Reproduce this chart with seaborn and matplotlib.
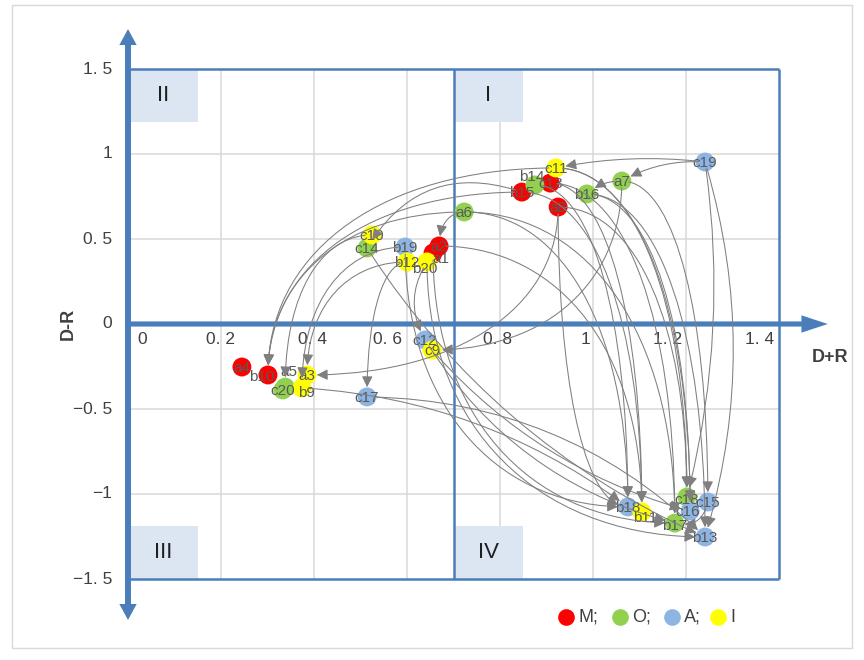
import matplotlib
matplotlib.use("Agg")
import matplotlib.pyplot as plt
import seaborn as sns
import pandas as pd
from matplotlib.lines import Line2D
from matplotlib.patches import Rectangle, ConnectionStyle
from matplotlib.path import Path

# ---------------- data ----------------
point_names = ["c19", "c11", "a7", "b14", "c13", "b15", "b16", "a8", "a6",
               "c10", "c14", "b19", "a2", "a1", "b12", "b20", "c12", "c9",
               "a4", "b10", "a3", "b9", "a5", "c20", "c17",
               "c18", "c15", "c16", "b18", "b11", "b17", "b13"]
point_groups = ["A", "I", "O", "O", "M", "M", "O", "M", "O",
                "I", "O", "A", "M", "M", "I", "I", "A", "I",
                "M", "M", "I", "I", "O", "O", "A",
                "O", "A", "A", "A", "I", "O", "A"]
point_x = [1.241, 0.920, 1.062, 0.875, 0.908, 0.847, 0.987, 0.925, 0.723,
           0.525, 0.514, 0.596, 0.669, 0.656, 0.600, 0.643, 0.639, 0.654,
           0.245, 0.301, 0.385, 0.374, 0.338, 0.333, 0.514,
           1.202, 1.247, 1.209, 1.075, 1.105, 1.176, 1.241]
point_y = [0.953, 0.918, 0.841, 0.818, 0.829, 0.776, 0.765, 0.688, 0.659,
           0.524, 0.447, 0.453, 0.459, 0.418, 0.365, 0.365, -0.094, -0.153,
           -0.253, -0.300, -0.300, -0.376, -0.371, -0.388, -0.429,
           -1.018, -1.047, -1.100, -1.076, -1.106, -1.171, -1.253]

edge_src = ["c11", "b15", "a6", "c10", "b19", "b12", "a8", "b12",
            "c19", "c19", "a7", "a6", "b15", "b20", "a7",
            "c19", "c19", "a7", "b16", "b16", "a8", "a8", "c13", "c13",
            "b14", "c11", "c11", "a6", "a6", "a2", "a1", "b20", "b19",
            "c12", "c9", "c17", "b9", "c15", "c14", "b15"]
edge_dst = ["b10", "b10", "b10", "a5", "b9", "a3", "a3", "c17",
            "c11", "a7", "b16", "a2", "c14", "c12", "c9",
            "c18", "b13", "c15", "b13", "c16", "b18", "c18", "b11", "b17",
            "b18", "c16", "c18", "b18", "b17", "b11", "b17", "b13", "b18",
            "b17", "c16", "b13", "b18", "b17", "b13", "b11"]

group_order = ["M", "O", "A", "I"]
group_colors = ["#ff0000", "#92d050", "#8db4e2", "#ffff00"]
legend_labels = ["M;", "O;", "A;", "I"]

x_ticks = [0, 0.2, 0.4, 0.6, 0.8, 1.0, 1.2, 1.4]
x_tick_labels = ["0", "0. 2", "0. 4", "0. 6", "0. 8", "1", "1. 2", "1. 4"]
y_ticks = [1.5, 1.0, 0.5, 0.0, -0.5, -1.0, -1.5]
y_tick_labels = ["1. 5", "1", "0. 5", "0", "\u22120. 5", "\u22121", "\u22121. 5"]
quadrant_names = ["I", "II", "III", "IV"]


# ---------------- styling ----------------
class OfficeCurve(ConnectionStyle._Base):
    """Curved connector: leaves horizontally ('h') or vertically ('v'),
    arrives along the other direction (quarter-ellipse like)."""

    def __init__(self, first="h", k=0.6):
        self.first = first
        self.k = k

    def connect(self, posA, posB):
        (xa, ya), (xb, yb) = posA, posB
        if self.first == "h":
            cx, cy = xb, ya
        else:
            cx, cy = xa, yb
        k = self.k
        c1 = (xa + k * (cx - xa), ya + k * (cy - ya))
        c2 = (xb + k * (cx - xb), yb + k * (cy - yb))
        return Path([posA, c1, c2, posB],
                    [Path.MOVETO, Path.CURVE4, Path.CURVE4, Path.CURVE4])


D = "D"
H = "H"
edge_styles = [D, D, D, D, D, D, H, D,
               "arc3,rad=0.08", "arc3,rad=0.15", "arc3,rad=0.2", D, "arc3,rad=0.4",
               "arc3,rad=0.3", H,
               "arc3,rad=-0.1", "arc3,rad=-0.15", D, D, D, H, D, D, D,
               D, D, D, D, D, D, H, H, H,
               "arc3,rad=0.2", "arc3,rad=0.15", "arc3,rad=-0.2", "arc3,rad=-0.15",
               "arc3,rad=-0.5", "arc3,rad=0.15", D]
style_map = {"D": OfficeCurve("h"), "H": OfficeCurve("v")}

# label offsets in pixels (dx, dy up)
label_offsets = {"b14": (-3, 8), "b20": (-2, -7), "a1": (8, -6), "b10": (-6, -2),
                 "b9": (5, -5), "b11": (3, -6), "a5": (4, 15), "c18": (0, -3),
                 "b17": (0, -3), "c16": (-2, -1)}

sns.set_style("white")
plt.rcParams["font.family"] = ["Liberation Sans", "DejaVu Sans"]

W, Hh = 864, 660
fig = plt.figure(figsize=(W / 100, Hh / 100), dpi=100)
fig.patch.set_facecolor("white")
ax = fig.add_axes([50 / W, 25 / Hh, 800 / W, 620 / Hh])
ax.set_xlim((50 - 128) / 465, (850 - 128) / 465)
ax.set_ylim((324 - 635) / 170, (324 - 15) / 170)
ax.axis("off")

blue = "#4a7ebb"
grid_c = "#d9d9d9"

# gridlines
ax.vlines([t for t in x_ticks if 0 < t < 1.4], -1.5, 1.5, color=grid_c, lw=1.1, zorder=0)
ax.hlines([t for t in y_ticks if abs(t) not in (0, 1.5)], 0, 1.4, color=grid_c, lw=1.1, zorder=0)

# quadrant label boxes
qx = {"I": 0.70, "II": 0.0, "III": 0.0, "IV": 0.70}
qy = {"I": 1.188, "II": 1.188, "III": -1.5, "IV": -1.5}
for q in quadrant_names:
    ax.add_patch(Rectangle((qx[q], qy[q]), 0.15, 0.312, facecolor="#dce6f2",
                           edgecolor="none", zorder=1))
    ax.text(qx[q] + 0.075, qy[q] + 0.156, q, ha="center", va="center",
            fontsize=16, color="#1f1f1f", zorder=2)

# frame lines
fl = dict(color=blue, lw=1.8, zorder=2, solid_capstyle="butt")
ax.plot([0, 1.4], [1.5, 1.5], **fl)
ax.plot([0, 1.4], [-1.5, -1.5], **fl)
ax.plot([1.4, 1.4], [-1.5, 1.5], **fl)
ax.plot([0.7, 0.7], [-1.5, 1.5], **fl)

# main axes arrows
ax.annotate("", xy=(1.505, 0), xytext=(0, 0),
            arrowprops=dict(arrowstyle="simple,head_length=1.9,head_width=1.25,tail_width=0.37",
                            color=blue, lw=0, shrinkA=0, shrinkB=0, mutation_scale=10),
            zorder=2.5)
ax.annotate("", xy=(0, 1.735), xytext=(0, -0.02),
            arrowprops=dict(arrowstyle="simple,head_length=1.15,head_width=1.25,tail_width=0.43",
                            color=blue, lw=0, shrinkA=0, shrinkB=0, mutation_scale=10),
            zorder=2.5)
ax.annotate("", xy=(0, -1.741), xytext=(0, 0.02),
            arrowprops=dict(arrowstyle="simple,head_length=1.15,head_width=1.25,tail_width=0.43",
                            color=blue, lw=0, shrinkA=0, shrinkB=0, mutation_scale=10),
            zorder=2.5)

# tick labels
x_label_pos = [0.030, 0.200, 0.396, 0.559, 0.794, 0.983, 1.161, 1.359]
for xp, lab in zip(x_label_pos, x_tick_labels):
    ax.text(xp, -0.094, lab, ha="center", va="center", fontsize=12.5, color="#404040")
for yv, lab in zip(y_ticks, y_tick_labels):
    ax.text(-0.034, yv, lab, ha="right", va="center", fontsize=12.5, color="#404040")

ax.text(-0.129, 0.0, "D-R", rotation=90, ha="center", va="center",
        fontsize=13, fontweight="bold", color="#404040")
ax.text(1.51, -0.2, "D+R", ha="center", va="center",
        fontsize=13, fontweight="bold", color="#404040", clip_on=False)

# points
df = pd.DataFrame({"name": point_names, "group": point_groups, "x": point_x, "y": point_y})
df["group"] = pd.Categorical(df["group"], categories=group_order, ordered=True)
df = df.sort_values("group", kind="stable")
palette = dict(zip(group_order, group_colors))
sns.scatterplot(data=df, x="x", y="y", hue="group", hue_order=group_order, palette=palette,
                s=185, linewidth=0, legend=False, ax=ax, zorder=3)

pos = {n: (x, y) for n, x, y in zip(point_names, point_x, point_y)}
for n in point_names:
    dx, dy = label_offsets.get(n, (0, -1))
    ax.annotate(n, xy=pos[n], xytext=(dx * 0.72, dy * 0.72), textcoords="offset points",
                ha="center", va="center", fontsize=11, color="#595959", zorder=4)

# connector arrows
for s, d, cs in zip(edge_src, edge_dst, edge_styles):
    ax.annotate("", xy=pos[d], xytext=pos[s],
                arrowprops=dict(arrowstyle="-|>,head_length=0.55,head_width=0.27",
                                connectionstyle=style_map.get(cs, cs), color="#7f7f7f", lw=0.75,
                                shrinkA=5, shrinkB=7, mutation_scale=12),
                zorder=5)

ax.set_xlabel("")
ax.set_ylabel("")

# legend
legend_px = [566, 620, 672, 718]
ly = 1 - 617 / Hh
for xp, c, lab in zip(legend_px, group_colors, legend_labels):
    fig.add_artist(Line2D([xp / W], [ly], marker="o", ms=12, color=c, linestyle="none",
                          markeredgewidth=0, transform=fig.transFigure))
    fig.text((xp + 12) / W, ly, lab, ha="left", va="center", fontsize=13, color="#404040")

# chart border
fig.patches.append(Rectangle((12 / W, 1 - 648 / Hh), (852 - 12) / W, (648 - 5) / Hh,
                             transform=fig.transFigure, fill=False, ec="#d9d9d9", lw=1))

fig.savefig("out.png", dpi=100)
